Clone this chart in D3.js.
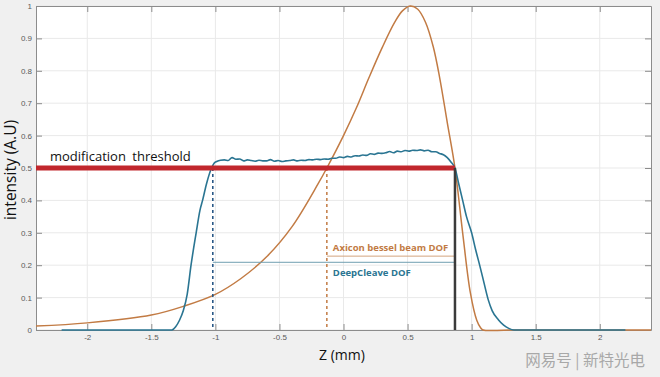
<!DOCTYPE html>
<html>
<head>
<meta charset="utf-8">
<script src="https://cdnjs.cloudflare.com/ajax/libs/d3/7.8.5/d3.min.js"></script>
<style>
  html, body { margin: 0; padding: 0; background: #f0f0f0; }
  svg { display: block; }
  text { font-family: "Open Sans", "Noto Sans", sans-serif; }
</style>
</head>
<body>
<svg id="chart" width="660" height="377"></svg>
<script>
'use strict';

// DeepCleave profile (z in mm, intensity in A.U)
var deepCleaveZ = [-2.2, -1.34, -1.31, -1.28, -1.25, -1.22, -1.19, -1.15, -1.12, -1.10, -1.07, -1.03, -1.01,
    -0.99, -0.96, -0.93, -0.90, -0.87, -0.84, -0.81, -0.78, -0.75, -0.72, -0.69, -0.66, -0.63, -0.60,
    -0.57, -0.54, -0.51, -0.48, -0.45, -0.42, -0.39, -0.36, -0.33, -0.30, -0.27, -0.24, -0.21, -0.18,
    -0.15, -0.12, -0.09, -0.06, -0.03, 0.00, 0.03, 0.06, 0.09, 0.12, 0.15, 0.18, 0.21, 0.24, 0.27,
    0.30, 0.33, 0.36, 0.39, 0.42, 0.45, 0.48, 0.51, 0.54, 0.57, 0.60, 0.63, 0.66, 0.69, 0.72, 0.75,
    0.78, 0.81, 0.84, 0.87, 0.90, 0.93, 0.96, 1.00, 1.03, 1.066, 1.10, 1.13, 1.16, 1.21, 1.25, 1.29,
    1.33, 2.2];
var deepCleaveI = [0, 0, 0.01, 0.03, 0.06, 0.11, 0.2, 0.3, 0.37, 0.4, 0.45, 0.5, 0.515,
    0.52, 0.524, 0.525, 0.523, 0.532, 0.527, 0.528, 0.522, 0.525, 0.523, 0.521, 0.524, 0.522, 0.522,
    0.526, 0.521, 0.523, 0.520, 0.522, 0.523, 0.525, 0.522, 0.524, 0.523, 0.526, 0.525, 0.527, 0.526,
    0.528, 0.527, 0.530, 0.530, 0.534, 0.532, 0.536, 0.534, 0.538, 0.537, 0.540, 0.539, 0.544, 0.542, 0.546,
    0.545, 0.547, 0.551, 0.547, 0.552, 0.550, 0.554, 0.552, 0.555, 0.554, 0.556, 0.553, 0.555, 0.550, 0.550, 0.545,
    0.541, 0.532, 0.518, 0.5, 0.45, 0.40, 0.35, 0.30, 0.25, 0.195, 0.14, 0.093, 0.06, 0.031, 0.015, 0.005,
    0, 0];

// Axicon bessel beam profile
var axiconZ = [-2.4, -2.0, -1.5, -1.25, -1.0, -0.8, -0.6, -0.4, -0.2, -0.13, 0.0, 0.1, 0.2, 0.3, 0.4,
    0.46, 0.52, 0.58, 0.64, 0.70, 0.75, 0.81, 0.87, 0.93, 0.99, 1.04, 1.07, 1.09, 1.3, 2.4];
var axiconI = [0.012, 0.022, 0.046, 0.073, 0.11, 0.159, 0.226, 0.32, 0.45, 0.5, 0.6, 0.685, 0.78, 0.87, 0.95,
    0.985, 1.0, 0.99, 0.95, 0.875, 0.78, 0.64, 0.5, 0.3, 0.115, 0.03, 0.007, 0, 0, 0];

var xTickValues = [-2, -1.5, -1, -0.5, 0, 0.5, 1, 1.5, 2];
var xTickLabels = ['-2', '-1.5', '-1', '-0.5', '0', '0.5', '1', '1.5', '2'];
var yTickValues = [0, 0.1, 0.2, 0.3, 0.4, 0.5, 0.6, 0.7, 0.8, 0.9, 1];
var yTickLabels = ['0', '0.1', '0.2', '0.3', '0.4', '0.5', '0.6', '0.7', '0.8', '0.9', '1'];

var threshold = 0.5;
var deepCleaveStart = -1.02,
    axiconStart = -0.13,
    dofEnd = 0.87,
    axiconDofLevel = 0.228,
    deepCleaveDofLevel = 0.209;

(function(){
    var blue = '#2a7592',
        orange = '#c27b44';

    var svg = d3.select('#chart'),
        pLeft = 36, pRight = 651, pTop = 6, pBottom = 330;

    var x = d3.scaleLinear().domain([-2.4, 2.4]).range([pLeft, pRight]),
        y = d3.scaleLinear().domain([0, 1]).range([pBottom, pTop]);

    // plot area
    svg.append('rect')
        .attr('x', pLeft).attr('y', pTop)
        .attr('width', pRight - pLeft).attr('height', pBottom - pTop)
        .attr('fill', '#ffffff');

    // grid
    var grid = svg.append('g').attr('stroke', '#e9e9e9').attr('stroke-width', 1);
    grid.selectAll('line.gx').data(xTickValues).enter().append('line')
        .attr('x1', function(d){ return x(d); }).attr('x2', function(d){ return x(d); })
        .attr('y1', pTop).attr('y2', pBottom);
    grid.selectAll('line.gy').data(yTickValues).enter().append('line')
        .attr('y1', function(d){ return y(d); }).attr('y2', function(d){ return y(d); })
        .attr('x1', pLeft).attr('x2', pRight);

    // axes, MATLAB style box with inward ticks
    function styleAxis(g){
        g.selectAll('.domain').attr('stroke', '#8c8c8c');
        g.selectAll('.tick line').attr('stroke', '#8c8c8c');
        g.selectAll('.tick text').attr('fill', '#5a5a5a')
            .style('font-family', 'Arial, "Liberation Sans", sans-serif').style('font-size', '8px');
    }

    svg.append('g').attr('transform', 'translate(0,' + pBottom + ')')
        .call(d3.axisBottom(x).tickValues(xTickValues).tickSizeInner(-6).tickSizeOuter(0).tickPadding(4)
            .tickFormat(function(d, i){ return xTickLabels[i]; }))
        .call(styleAxis);
    svg.append('g').attr('transform', 'translate(0,' + pTop + ')')
        .call(d3.axisTop(x).tickValues(xTickValues).tickSizeInner(-6).tickSizeOuter(0).tickFormat(''))
        .call(styleAxis);
    svg.append('g').attr('transform', 'translate(' + pLeft + ',0)')
        .call(d3.axisLeft(y).tickValues(yTickValues).tickSizeInner(-6).tickSizeOuter(0).tickPadding(4)
            .tickFormat(function(d, i){ return yTickLabels[i]; }))
        .call(styleAxis);
    svg.append('g').attr('transform', 'translate(' + pRight + ',0)')
        .call(d3.axisRight(y).tickValues(yTickValues).tickSizeInner(-6).tickSizeOuter(0).tickFormat(''))
        .call(styleAxis);

    // curves
    function makeLine(curve){
        return d3.line()
            .x(function(d){ return x(d[0]); })
            .y(function(d){ return y(d[1]); })
            .curve(curve);
    }

    svg.append('path')
        .datum(d3.zip(axiconZ, axiconI))
        .attr('d', makeLine(d3.curveCatmullRom.alpha(0.5)))
        .attr('fill', 'none').attr('stroke', orange).attr('stroke-width', 1.5);

    svg.append('path')
        .datum(d3.zip(deepCleaveZ, deepCleaveI))
        .attr('d', makeLine(d3.curveMonotoneX))
        .attr('fill', 'none').attr('stroke', blue).attr('stroke-width', 1.6);

    // DOF markers
    svg.append('line')
        .attr('x1', x(deepCleaveStart)).attr('x2', x(deepCleaveStart))
        .attr('y1', y(threshold)).attr('y2', y(0))
        .attr('stroke', '#1d4f80').attr('stroke-width', 1.5).attr('stroke-dasharray', '3,3');
    svg.append('line')
        .attr('x1', x(axiconStart)).attr('x2', x(axiconStart))
        .attr('y1', y(threshold)).attr('y2', y(0))
        .attr('stroke', orange).attr('stroke-width', 1.5).attr('stroke-dasharray', '3,3');

    svg.append('line')
        .attr('x1', x(axiconStart)).attr('x2', x(dofEnd))
        .attr('y1', y(axiconDofLevel)).attr('y2', y(axiconDofLevel))
        .attr('stroke', '#d3a57f').attr('stroke-width', 1);
    svg.append('line')
        .attr('x1', x(deepCleaveStart)).attr('x2', x(dofEnd))
        .attr('y1', y(deepCleaveDofLevel)).attr('y2', y(deepCleaveDofLevel))
        .attr('stroke', '#6f9fb0').attr('stroke-width', 1);

    // threshold
    svg.append('line')
        .attr('x1', x(-2.4)).attr('x2', x(dofEnd))
        .attr('y1', y(threshold)).attr('y2', y(threshold))
        .attr('stroke', '#c1272d').attr('stroke-width', 5);

    svg.append('line')
        .attr('x1', x(dofEnd)).attr('x2', x(dofEnd))
        .attr('y1', y(threshold)).attr('y2', y(0))
        .attr('stroke', '#3b3b3b').attr('stroke-width', 2.5);

    // labels
    svg.append('text')
        .attr('x', 50).attr('y', 161)
        .attr('fill', '#111').style('font-size', '13px').style('word-spacing', '3px')
        .text('modification threshold');

    svg.append('text')
        .attr('x', x(axiconStart) + 6).attr('y', 251)
        .attr('fill', orange).style('font-size', '9.5px').style('font-weight', 'bold')
        .text('Axicon bessel beam DOF');
    svg.append('text')
        .attr('x', x(axiconStart) + 6).attr('y', 276)
        .attr('fill', blue).style('font-size', '9.5px').style('font-weight', 'bold')
        .text('DeepCleave DOF');

    svg.append('text')
        .attr('transform', 'translate(16,170) rotate(-90)')
        .attr('text-anchor', 'middle')
        .attr('fill', '#111').style('font-size', '15.5px')
        .text('intensity (A.U)');

    svg.append('text')
        .attr('x', 342).attr('y', 360)
        .attr('text-anchor', 'middle')
        .attr('fill', '#111').style('font-size', '14px')
        .text('Z (mm)');

    // watermark
    svg.append('text')
        .attr('x', 645).attr('y', 366)
        .attr('text-anchor', 'end')
        .attr('fill', '#a8a8a8')
        .style('font-family', '"Noto Sans CJK SC", sans-serif').style('font-size', '15.5px')
        .text('网易号 | 新特光电');
})();
</script>
</body>
</html>
